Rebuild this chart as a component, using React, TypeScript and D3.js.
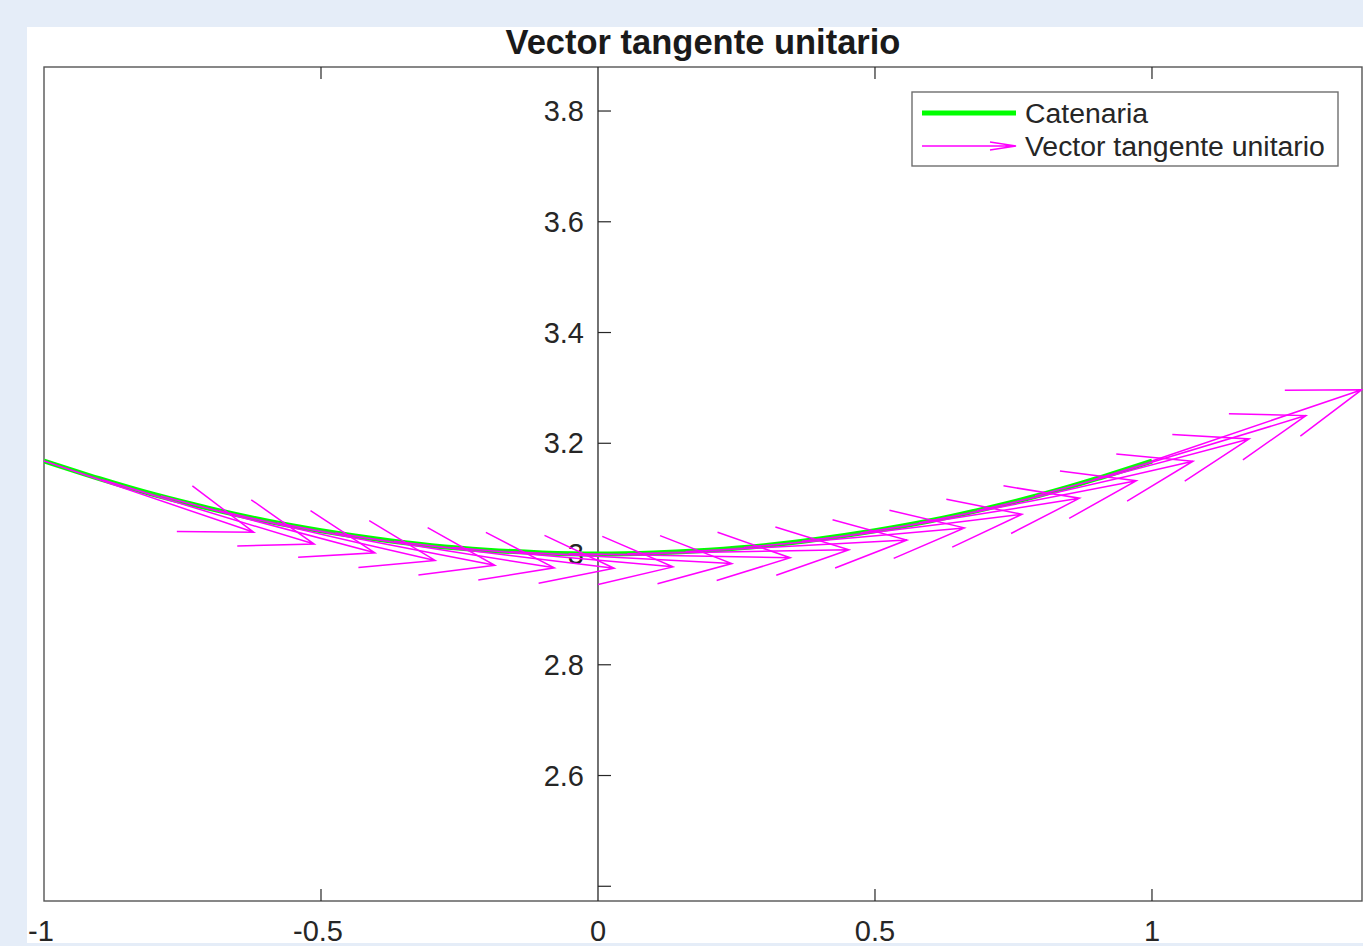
import React from 'react';
import * as d3 from 'd3';

// catenary samples
const curveX = [-1, -0.9, -0.8, -0.7, -0.6, -0.5, -0.4, -0.3, -0.2, -0.1, 0, 0.1, 0.2, 0.3, 0.4, 0.5, 0.6, 0.7, 0.8, 0.9, 1];
const curveY = [3.168, 3.136, 3.107, 3.082, 3.06, 3.042, 3.027, 3.015, 3.007, 3.002, 3.0, 3.002, 3.007, 3.015, 3.027, 3.042, 3.06, 3.082, 3.107, 3.136, 3.168];

// quiver origins and unit tangent components
const arrowX = [-1, -0.895, -0.789, -0.684, -0.579, -0.474, -0.368, -0.263, -0.158, -0.053, 0.053, 0.158, 0.263, 0.368, 0.474, 0.579, 0.684, 0.789, 0.895, 1];
const arrowY = [3.168, 3.134, 3.105, 3.078, 3.056, 3.038, 3.023, 3.012, 3.004, 3.0005, 3.0005, 3.004, 3.012, 3.023, 3.038, 3.056, 3.078, 3.105, 3.134, 3.168];
const tangentU = [0.947, 0.957, 0.966, 0.975, 0.982, 0.988, 0.993, 0.996, 0.999, 1.0, 1.0, 0.999, 0.996, 0.993, 0.988, 0.982, 0.975, 0.966, 0.957, 0.947];
const tangentV = [-0.322, -0.29, -0.257, -0.224, -0.191, -0.157, -0.122, -0.088, -0.053, -0.018, 0.018, 0.053, 0.088, 0.122, 0.157, 0.191, 0.224, 0.257, 0.29, 0.322];

const xTicks = [-1, -0.5, 0, 0.5, 1];
const yTicks = [2.4, 2.6, 2.8, 3, 3.2, 3.4, 3.6, 3.8];
const yTickLabels = ['', '2.6', '2.8', '3', '3.2', '3.4', '3.6', '3.8'];

const W = 1363;
const H = 946;
const left = 44;
const right = 1362;
const top = 67;
const bottom = 901;
const font = "'Liberation Sans', Arial, Helvetica, sans-serif";
const axisColor = '#262626';

export default function App() {
  const x = d3.scaleLinear().domain([-1, 1.3791]).range([left, right]);
  const y = d3.scaleLinear().domain([2.3734, 3.8795]).range([bottom, top]);

  const curve = d3
    .line<number>()
    .x((_, i) => x(curveX[i]))
    .y(d => y(d))
    .curve(d3.curveNatural);

  // MATLAB style quiver arrows
  const scale = 0.4;
  const alpha = 0.33;
  const beta = 0.33;
  const arrows = arrowX.map((x0, i) => {
    const y0 = arrowY[i];
    const u = tangentU[i] * scale;
    const v = tangentV[i] * scale;
    const tx = x0 + u;
    const ty = y0 + v;
    const h1x = tx - alpha * (u + beta * v);
    const h1y = ty - alpha * (v - beta * u);
    const h2x = tx - alpha * (u - beta * v);
    const h2y = ty - alpha * (v + beta * u);
    return (
      `M${x(x0)},${y(y0)}L${x(tx)},${y(ty)}` +
      `M${x(h1x)},${y(h1y)}L${x(tx)},${y(ty)}L${x(h2x)},${y(h2y)}`
    );
  });

  const y0px = x(0);

  return (
    <svg
      width={W}
      height={H}
      style={{ position: 'absolute', left: 0, top: 0, display: 'block' }}
    >
      <rect x={0} y={0} width={W} height={H} fill='#e5edf8' />
      <rect x={27} y={27} width={W - 27} height={916} fill='#ffffff' />

      <text
        x={(left + right) / 2}
        y={54}
        textAnchor='middle'
        fontFamily={font}
        fontWeight='bold'
        fontSize={34.5}
        fill='#1a1a1a'
      >
        Vector tangente unitario
      </text>

      <defs>
        <clipPath id='plot-area'>
          <rect x={left} y={top} width={right - left + 2} height={bottom - top} />
        </clipPath>
      </defs>

      {/* box */}
      <rect
        x={left}
        y={top}
        width={right - left}
        height={bottom - top}
        fill='none'
        stroke='#555'
        strokeWidth={1.4}
      />

      {/* top ticks */}
      {xTicks
        .filter(t => t !== -1 && t !== 0)
        .map(t => (
          <line key={'tt' + t} x1={x(t)} x2={x(t)} y1={top} y2={top + 12} stroke={axisColor} strokeWidth={1.2} />
        ))}

      {/* bottom x axis ticks and labels */}
      {xTicks.map(t => (
        <g key={'xb' + t}>
          {t !== -1 && t !== 0 && (
            <line x1={x(t)} x2={x(t)} y1={bottom} y2={bottom - 12} stroke={axisColor} strokeWidth={1.2} />
          )}
          <text
            x={x(t) - (t < 0 ? 3 : 0)}
            y={931}
            textAnchor='middle'
            dominantBaseline='central'
            fontFamily={font}
            fontSize={29}
            fill={axisColor}
          >
            {String(t)}
          </text>
        </g>
      ))}

      {/* y axis through x = 0 */}
      <line x1={y0px} x2={y0px} y1={top} y2={bottom} stroke={axisColor} strokeWidth={1.3} />
      {yTicks.map((t, i) => (
        <g key={'y' + t}>
          <line x1={y0px} x2={y0px + 13} y1={y(t)} y2={y(t)} stroke={axisColor} strokeWidth={1.2} />
          <text
            x={y0px - 14}
            y={y(t)}
            textAnchor='end'
            dominantBaseline='central'
            fontFamily={font}
            fontSize={29}
            fill={axisColor}
          >
            {yTickLabels[i]}
          </text>
        </g>
      ))}

      <g clipPath='url(#plot-area)'>
        <path d={curve(curveY) || ''} fill='none' stroke='#00ff00' strokeWidth={5} />
        <path d={curve(curveY) || ''} fill='none' stroke='#808080' strokeWidth={1.4} opacity={0.8} />
        {arrows.map((d, i) => (
          <path key={'a' + i} d={d} fill='none' stroke='#ff00ff' strokeWidth={1.5} />
        ))}
      </g>

      {/* legend */}
      <g>
        <rect x={912} y={92} width={426} height={74} fill='#ffffff' stroke='#6e6e6e' strokeWidth={1.4} />
        <line x1={922} x2={1016} y1={113} y2={113} stroke='#00ff00' strokeWidth={5} />
        <text x={1025} y={113} dominantBaseline='central' fontFamily={font} fontSize={28.4} fill={axisColor}>
          Catenaria
        </text>
        <path
          d='M922,146L1016,146M990,142L1016,146L990,150'
          fill='none'
          stroke='#ff00ff'
          strokeWidth={1.5}
        />
        <text x={1025} y={146} dominantBaseline='central' fontFamily={font} fontSize={28.4} fill={axisColor}>
          Vector tangente unitario
        </text>
      </g>
    </svg>
  );
}
